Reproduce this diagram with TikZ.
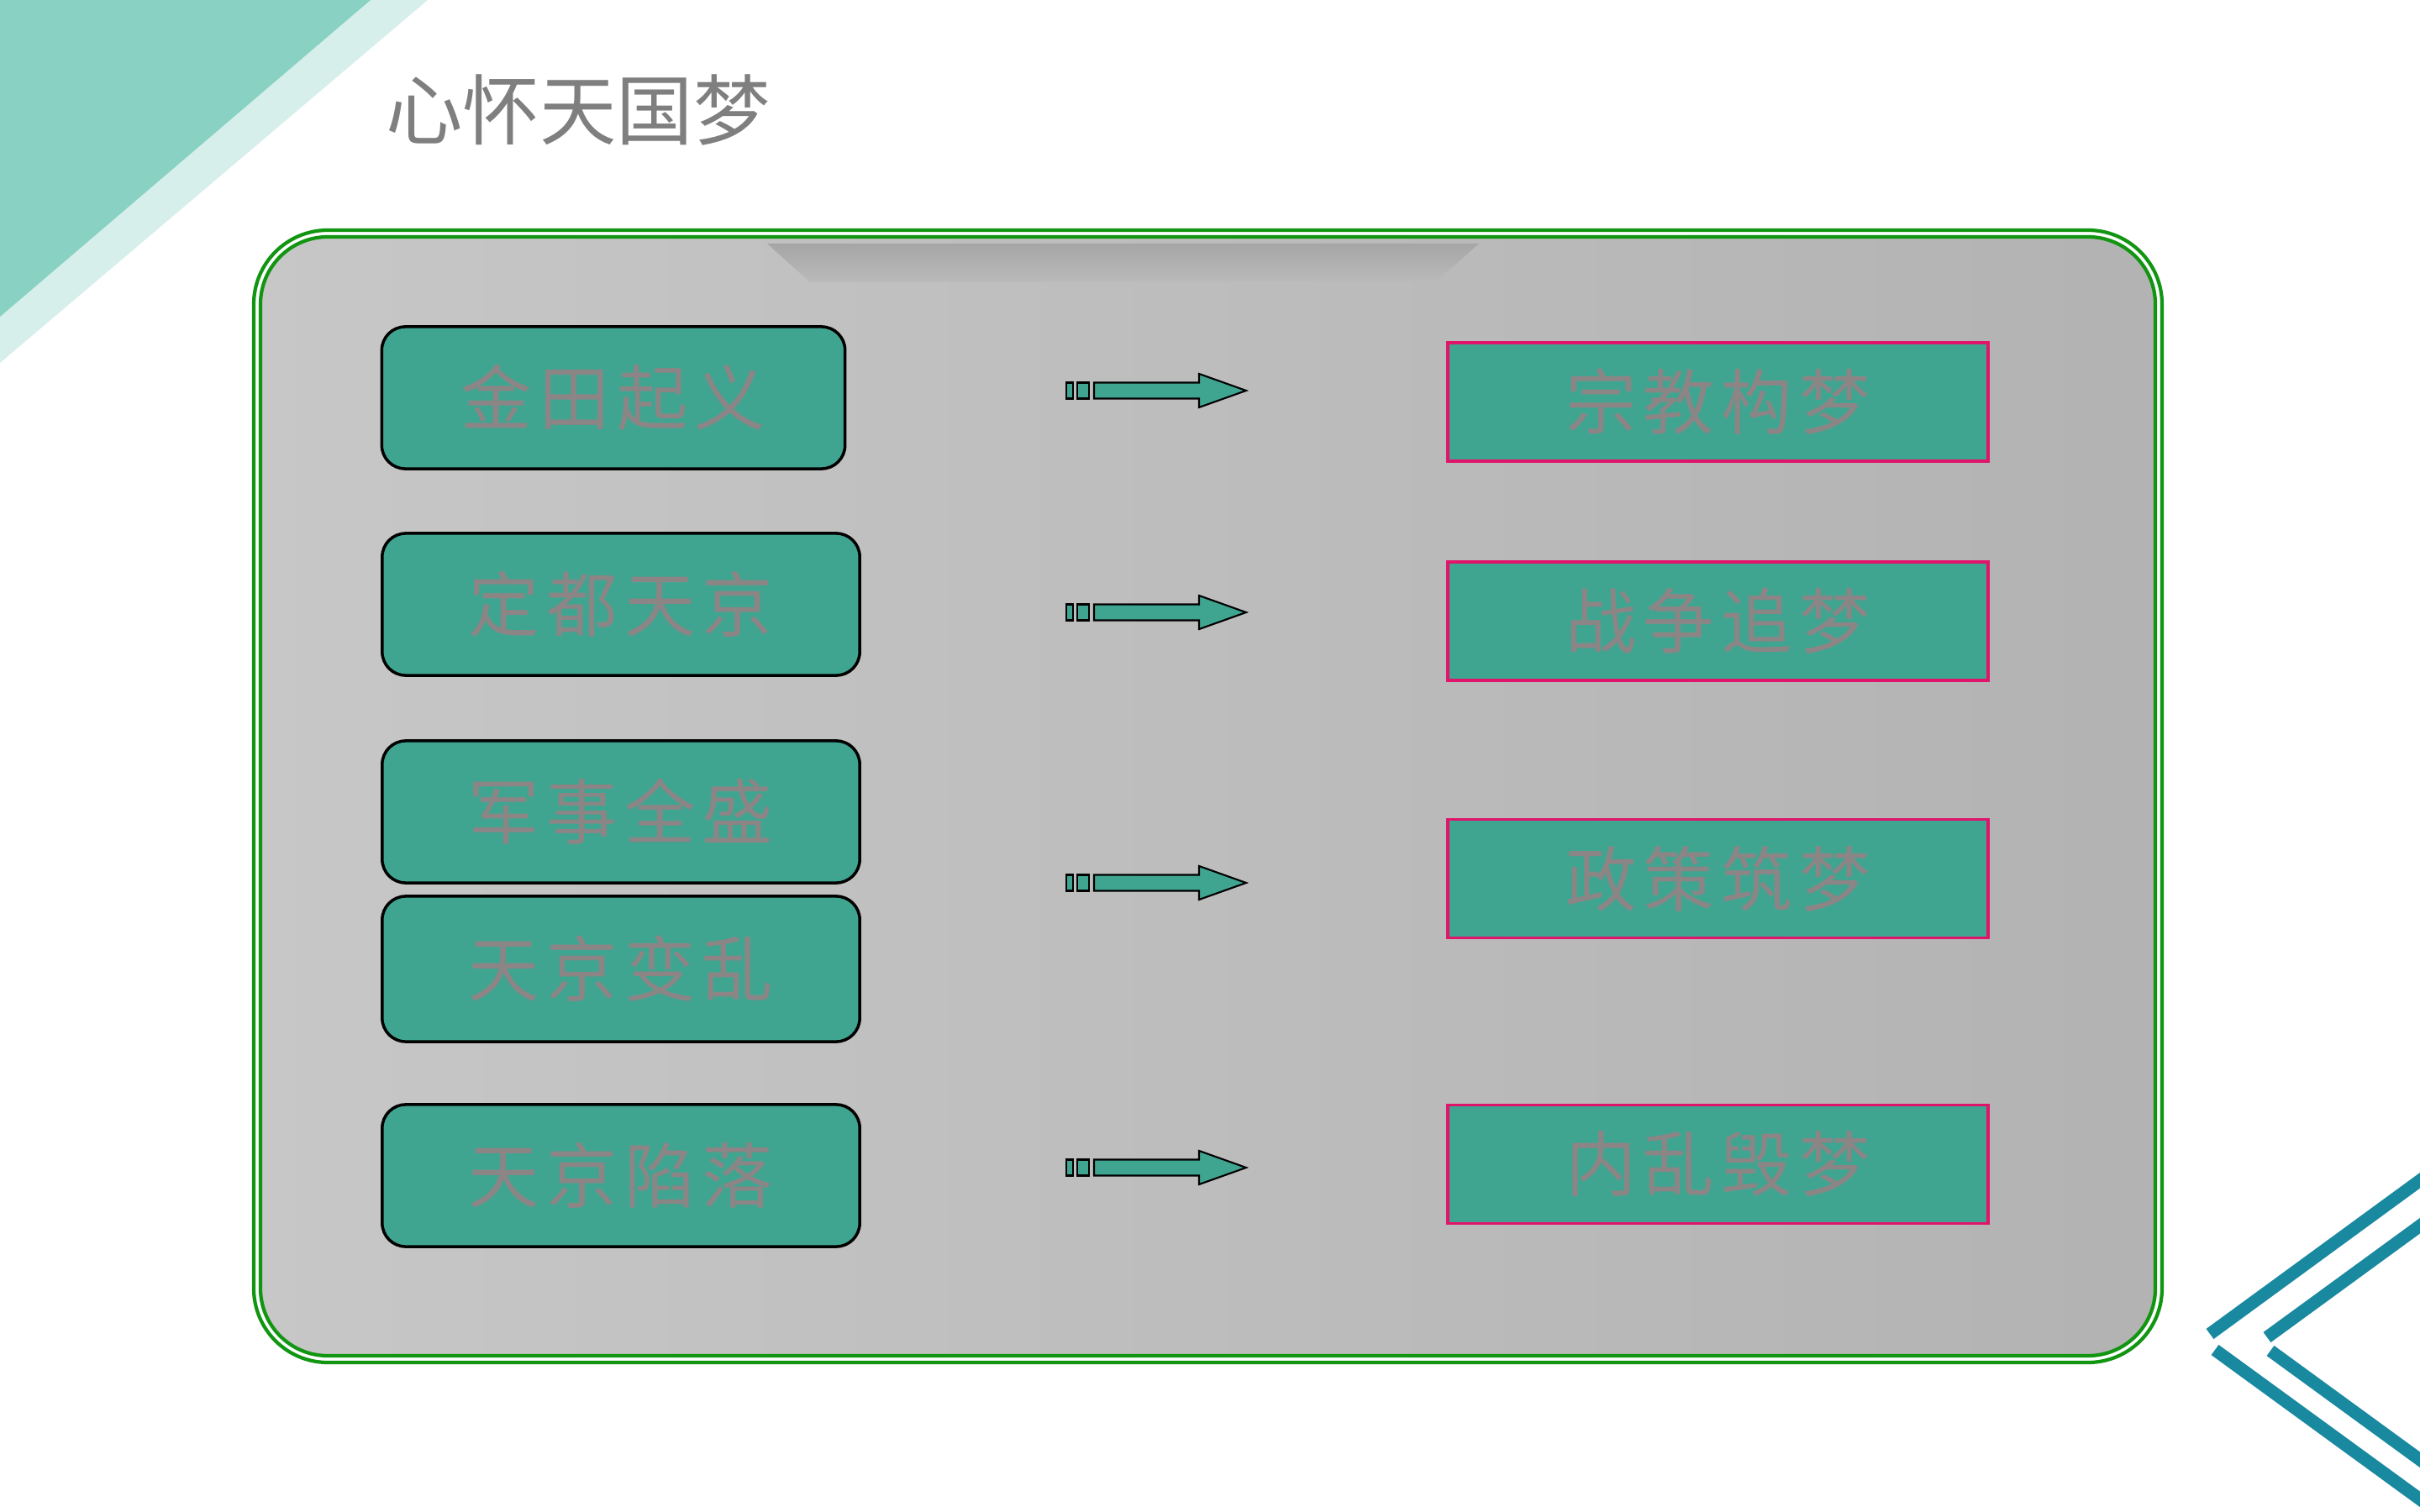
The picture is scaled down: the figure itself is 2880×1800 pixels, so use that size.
\documentclass[tikz,border=0pt]{standalone}
\usepackage{fontspec}
\usepackage{tikz}
\usetikzlibrary{positioning}
\usepackage{xcolor}

\newfontfamily\cjk{Noto Sans CJK SC}
\newfontfamily\cjkbox[LetterSpace=10]{Noto Sans CJK SC}

\definecolor{tealfill}{RGB}{63,165,145}
\definecolor{darktri}{RGB}{136,209,195}
\definecolor{lighttri}{RGB}{214,239,234}
\definecolor{chevblue}{RGB}{25,137,160}
\definecolor{framegreen}{RGB}{18,150,18}
\definecolor{crimsonline}{RGB}{224,20,106}
\definecolor{boxtext}{RGB}{140,133,134}
\definecolor{titlegray}{RGB}{127,127,127}

\begin{document}
\begin{tikzpicture}[x=0.01cm, y=-0.01cm,
    leftbox/.style={draw=black, line width=1pt, fill=tealfill, rounded corners=0.28cm,
        minimum height=1.69cm, text=boxtext, font=\cjkbox\fontsize{24}{24}\selectfont},
    rightbox/.style={draw=crimsonline, line width=1pt, fill=tealfill,
        minimum width=6.43cm, minimum height=1.41cm, text=boxtext, font=\cjkbox\fontsize{24}{24}\selectfont},
    arrowpart/.style={draw=black, line width=0.6pt, fill=tealfill},
    frameline/.style={draw=framegreen, line width=1.2pt},
    chevron/.style={draw=chevblue, line width=0.15cm}]

    % Page size
    \useasboundingbox[fill=white] (0,0) rectangle (2880,1800);

    % Corner decorations
    \fill[lighttri] (0,0) -- (509,0) -- (0,432) -- cycle;
    \fill[darktri] (0,0) -- (441,0) -- (0,377) -- cycle;
    \begin{scope}
        \clip (0,0) rectangle (2880,1800);
        \draw[chevron] (2630,1588) -- (2920,1376);
        \draw[chevron] (2636,1607) -- (2920,1814);
        \draw[chevron] (2698,1592) -- (2920,1430);
        \draw[chevron] (2702,1608) -- (2920,1767);
    \end{scope}

    % Title
    \node[font=\cjk\fontsize{26}{26}\selectfont, text=titlegray] (title) at (688,131) {心怀天国梦};

    % Frame
    \draw[frameline, rounded corners=0.88cm] (302,274) rectangle (2573,1622);
    \shade[left color=black!22, right color=black!30, rounded corners=0.8cm] (310,282) rectangle (2565,1614);
    \draw[frameline, rounded corners=0.8cm] (310,282) rectangle (2565,1614);
    \shade[top color=black!35, bottom color=black!27] (913,290) -- (1760,290) -- (1708,336) -- (964,336) -- cycle;

    % Left column
    \node[leftbox, minimum width=5.51cm] (l1) at (730,473.5) {金田起义};
    \node[leftbox, minimum width=5.68cm] (l2) at (739,719.5) {定都天京};
    \node[leftbox, minimum width=5.68cm] (l3) at (739,966.5) {军事全盛};
    \node[leftbox, minimum width=5.68cm, minimum height=1.73cm] (l4) at (739,1153.5) {天京变乱};
    \node[leftbox, minimum width=5.68cm] (l5) at (739,1399.5) {天京陷落};

    % Right column
    \node[rightbox] (r1) at (2044.5,478.5) {宗教构梦};
    \node[rightbox] (r2) at (2044.5,739.5) {战争追梦};
    \node[rightbox] (r3) at (2044.5,1046) {政策筑梦};
    \node[rightbox] (r4) at (2044.5,1386) {内乱毁梦};

    % Arrows
    \coordinate (a1) at (1267,465);
    \coordinate (a2) at (1267,729);
    \coordinate (a3) at (1267,1051);
    \coordinate (a4) at (1267,1390);
    \foreach \a in {a1,a2,a3,a4} {
        \begin{scope}[shift={(\a)}]
            \draw[arrowpart] (2,-9.5) rectangle (10,9.5);
            \draw[arrowpart] (15,-9.5) rectangle (29,9.5);
            \draw[arrowpart] (35,-9.5) -- (160,-9.5) -- (160,-20) -- (216,0)
                -- (160,20) -- (160,9.5) -- (35,9.5) -- cycle;
        \end{scope}
    }
\end{tikzpicture}
\end{document}
